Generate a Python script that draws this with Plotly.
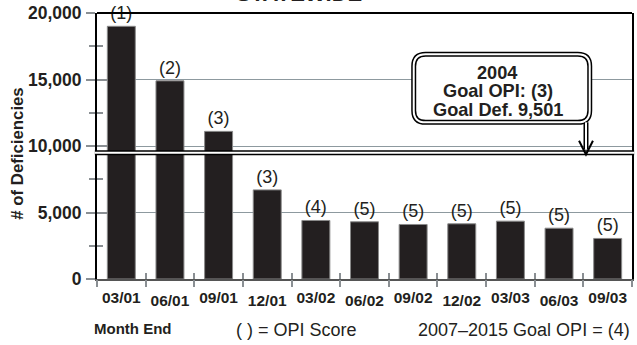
import plotly.graph_objects as go

# ---- data ----
months = ["03/01", "06/01", "09/01", "12/01", "03/02", "06/02", "09/02",
          "12/02", "03/03", "06/03", "09/03"]
deficiencies = [19000, 14900, 11100, 6700, 4400, 4300, 4100, 4150, 4350, 3820, 3050]
opi_scores = ["(1)", "(2)", "(3)", "(3)", "(4)", "(5)", "(5)", "(5)", "(5)", "(5)", "(5)"]
goal_def = 9501
y_major = [0, 5000, 10000, 15000, 20000]
y_major_text = ["0", "5,000", "10,000", "15,000", "20,000"]
y_minor = [2500, 7500, 12500, 17500]

FONT = "Liberation Sans, Arial, sans-serif"
BAR = "#231f20"
GRID = "#8d999f"
TICK = "#8a8f93"

n = len(months)
xs = list(range(n))
xr = [-0.5, n - 0.5]
bounds = [i - 0.5 for i in range(n + 1)]

fig = go.Figure()
fig.add_trace(go.Bar(
    x=xs, y=deficiencies, width=0.575,
    marker=dict(color=BAR, line=dict(color="#8a8a8a", width=1)),
    text=opi_scores, textposition="outside", cliponaxis=False,
    textfont=dict(family=FONT, size=18, color=BAR),
    showlegend=False, hoverinfo="skip",
))

even = [i for i in xs if i % 2 == 0]
odd = [i for i in xs if i % 2 == 1]
tickfont = dict(family=FONT, size=15.5, color=BAR, weight="bold")

fig.update_layout(
    width=637, height=345,
    margin=dict(l=97, r=3, t=12, b=66),
    paper_bgcolor="white", plot_bgcolor="white",
    font=dict(family=FONT, color=BAR),
    xaxis=dict(range=xr, tickmode="array", tickvals=even,
               ticktext=[months[i] for i in even], ticks="",
               tickfont=tickfont, ticklabelstandoff=3,
               showline=True, linecolor="#555555", linewidth=2,
               showgrid=False, zeroline=False, fixedrange=True),
    xaxis2=dict(range=xr, overlaying="x", anchor="y", side="bottom",
                tickmode="array", tickvals=odd,
                ticktext=[months[i] for i in odd], ticks="",
                tickfont=tickfont, ticklabelstandoff=10,
                showline=False, showgrid=False, zeroline=False),
    xaxis3=dict(range=xr, overlaying="x", anchor="y", side="bottom",
                tickmode="array", tickvals=bounds, ticks="outside",
                ticklen=7, tickwidth=1.5, tickcolor=TICK,
                showticklabels=False, showline=False, showgrid=False,
                zeroline=False),
    xaxis4=dict(range=xr, overlaying="x", anchor="y", side="bottom",
                tickmode="array", tickvals=bounds, ticks="inside",
                ticklen=6, tickwidth=1.5, tickcolor=TICK,
                showticklabels=False, showline=False, showgrid=False,
                zeroline=False),
    yaxis=dict(range=[0, 20000], tickmode="array", tickvals=y_major,
               ticktext=y_major_text, ticks="outside", ticklen=9,
               tickwidth=1.5, tickcolor=TICK,
               tickfont=dict(family=FONT, size=17.5, color=BAR, weight="bold"),
               ticklabelstandoff=1,
               minor=dict(tickmode="array", tickvals=y_minor, ticks="outside",
                          ticklen=6, tickwidth=1.5, tickcolor=TICK, showgrid=False),
               showgrid=True, gridcolor=GRID, gridwidth=1,
               showline=True, linecolor="black", linewidth=2, mirror=True,
               zeroline=False, fixedrange=True),
    yaxis2=dict(range=[0, 20000], overlaying="y", anchor="x", side="left",
                tickmode="array", tickvals=y_major, ticks="inside", ticklen=10,
                tickwidth=1.5, tickcolor=TICK, showticklabels=False,
                minor=dict(tickmode="array", tickvals=y_minor, ticks="inside",
                           ticklen=6, tickwidth=1.5, tickcolor=TICK, showgrid=False),
                showgrid=False, showline=False, zeroline=False),
)

# invisible traces so overlay axes are drawn
for ax in ["x2", "x3", "x4"]:
    fig.add_trace(go.Scatter(x=[xr[0]], y=[0], xaxis=ax, yaxis="y", mode="markers",
                             marker=dict(opacity=0), showlegend=False, hoverinfo="skip"))
fig.add_trace(go.Scatter(x=[xr[0]], y=[0], xaxis="x", yaxis="y2", mode="markers",
                         marker=dict(opacity=0), showlegend=False, hoverinfo="skip"))

shapes = []
# top frame
shapes.append(dict(type="line", xref="paper", yref="paper", x0=0, x1=1, y0=1, y1=1,
                   line=dict(color="black", width=2)))
# goal line (double)
for w, c in [(5, "black"), (2, "white")]:
    shapes.append(dict(type="line", xref="paper", yref="y", x0=-0.004, x1=1.004,
                       y0=goal_def, y1=goal_def, line=dict(color=c, width=w)))

# callout box, rounded, double border (paper coords)
bx0, bx1, by0, by1 = 0.592, 0.921, 0.589, 0.845
rx, ry = 0.0223, 0.0449
box = (f"M {bx0+rx},{by1} L {bx1-rx},{by1} Q {bx1},{by1} {bx1},{by1-ry} "
       f"L {bx1},{by0+ry} Q {bx1},{by0} {bx1-rx},{by0} "
       f"L {bx0+rx},{by0} Q {bx0},{by0} {bx0},{by0+ry} "
       f"L {bx0},{by1-ry} Q {bx0},{by1} {bx0+rx},{by1} Z")
shaft_x = 0.914
shaft = f"M {shaft_x},{by0} L {shaft_x},0.487"
for w, c in [(5, "black"), (2, "white")]:
    shapes.append(dict(type="path", xref="paper", yref="paper", path=shaft,
                       line=dict(color=c, width=w)))
    shapes.append(dict(type="path", xref="paper", yref="paper", path=box,
                       fillcolor="white" if c == "black" else "rgba(0,0,0,0)",
                       line=dict(color=c, width=w)))
head = (f"M {shaft_x-0.013},0.52 L {shaft_x},0.468 L {shaft_x+0.013},0.52")
shapes.append(dict(type="path", xref="paper", yref="paper", path=head,
                   line=dict(color="black", width=2)))
fig.update_layout(shapes=shapes)

ann = []
bold = dict(family=FONT, size=18.2, color=BAR, weight="bold")
for txt, yp in [("2004", 0.776), ("Goal OPI: (3)", 0.706), ("Goal Def. 9,501", 0.636)]:
    ann.append(dict(text=txt, xref="paper", yref="paper", x=0.7486, y=yp,
                    xanchor="center", yanchor="middle", showarrow=False, font=bold,
                    borderpad=0))
ann.append(dict(text="# of Deficiencies", xref="paper", yref="paper", x=-0.149, y=0.472,
                textangle=-90, xanchor="center", yanchor="middle", showarrow=False,
                font=dict(family=FONT, size=16.8, color=BAR, weight="bold")))
ann.append(dict(text="Month End", xref="paper", yref="paper", x=-0.0093, y=-0.187,
                xanchor="left", yanchor="middle", showarrow=False,
                font=dict(family=FONT, size=15, color=BAR, weight="bold")))
ann.append(dict(text="( ) = OPI Score", xref="paper", yref="paper", x=0.257, y=-0.19,
                xanchor="left", yanchor="middle", showarrow=False,
                font=dict(family=FONT, size=18, color=BAR)))
ann.append(dict(text="2007\u20132015 Goal OPI = (4)", xref="paper", yref="paper", x=1.0,
                y=-0.19, xanchor="right", yanchor="middle", showarrow=False,
                font=dict(family=FONT, size=18, color=BAR)))
ann.append(dict(text="STATEWIDE", xref="paper", yref="paper", x=0.378, y=1.017,
                xanchor="center", yanchor="bottom", showarrow=False,
                font=dict(family=FONT, size=22, color=BAR, weight="bold")))
fig.update_layout(annotations=ann)

fig.write_html("out.html")
